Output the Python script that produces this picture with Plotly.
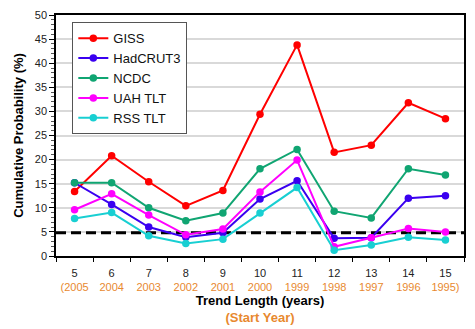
import plotly.graph_objects as go

lengths = ["5", "6", "7", "8", "9", "10", "11", "12", "13", "14", "15"]
years = ["(2005", "2004", "2003", "2002", "2001", "2000", "1999", "1998", "1997", "1996", "1995)"]

giss = [13.4, 20.8, 15.4, 10.4, 13.6, 29.4, 43.8, 21.5, 23.0, 31.8, 28.5]
hadcrut3 = [15.2, 10.7, 6.0, 3.9, 4.8, 11.8, 15.6, 3.7, 3.8, 12.0, 12.5]
ncdc = [15.2, 15.2, 10.0, 7.3, 8.9, 18.1, 22.1, 9.3, 7.9, 18.1, 16.8]
uah = [9.6, 12.9, 8.5, 4.4, 5.6, 13.3, 19.9, 1.9, 3.8, 5.7, 5.0]
rss = [7.8, 9.0, 4.2, 2.6, 3.5, 8.9, 14.2, 1.2, 2.3, 3.9, 3.3]
threshold = 4.8

series = [
    ("GISS", giss, "#FF0000"),
    ("HadCRUT3", hadcrut3, "#3A00F0"),
    ("NCDC", ncdc, "#10A572"),
    ("UAH TLT", uah, "#FF00FF"),
    ("RSS TLT", rss, "#18CFD2"),
]

orange = "#E8892F"
xpos = list(range(len(lengths)))
ticktext = [f"{l}<br><span style='color:{orange}'>{y}</span>" for l, y in zip(lengths, years)]

fig = go.Figure()
fig.add_trace(go.Scatter(
    x=[-0.5, len(lengths) - 0.5], y=[threshold, threshold], mode="lines",
    line=dict(color="black", width=3, dash="10px,5px"), showlegend=False, hoverinfo="skip"))
for name, vals, col in series:
    fig.add_trace(go.Scatter(
        x=xpos, y=vals, name=name, mode="lines+markers",
        line=dict(color=col, width=2), marker=dict(color=col, size=7.5)))

fig.update_layout(
    width=475, height=329,
    margin=dict(l=56, r=9, t=14, b=73),
    paper_bgcolor="white", plot_bgcolor="white",
    font=dict(family="Liberation Sans, Arial, sans-serif", size=11, color="#222"),
    legend=dict(x=0.04, y=0.97, xanchor="left", yanchor="top",
                bordercolor="#555", borderwidth=1, bgcolor="white",
                font=dict(size=13, color="#111"), itemwidth=30,
                tracegroupgap=0),
    xaxis=dict(
        range=[-0.5, len(lengths) - 0.5], tickmode="array", tickvals=xpos,
        ticktext=ticktext, showgrid=False, zeroline=False,
        showline=True, linecolor="black", linewidth=1.5, mirror=True,
        ticks="", tickfont=dict(size=11, color="#222"), ticklabelstandoff=6,
        minor=dict(tickmode="array", tickvals=[i + 0.5 for i in range(-1, len(lengths))],
                   ticks="outside", ticklen=4, tickcolor="black"),
        title=dict(text=f"<b>Trend Length (years)</b><br><b><span style='color:{orange}'>(Start Year)</span></b>",
                   font=dict(size=13, color="black"), standoff=0),
    ),
    yaxis=dict(
        range=[0, 50], dtick=5, showgrid=True, gridcolor="#D9D9D9", gridwidth=1.5,
        zeroline=False, showline=True, linecolor="black", linewidth=1.5, mirror=True,
        ticks="outside", ticklen=5, tickcolor="black",
        minor=dict(dtick=1, ticks="outside", ticklen=3, tickcolor="#555", showgrid=False),
        tickfont=dict(size=11, color="#222"),
        title=dict(text="<b>Cumulative Probability (%)</b>", font=dict(size=13, color="black"), standoff=8),
    ),
)

fig.write_html("out.html")
